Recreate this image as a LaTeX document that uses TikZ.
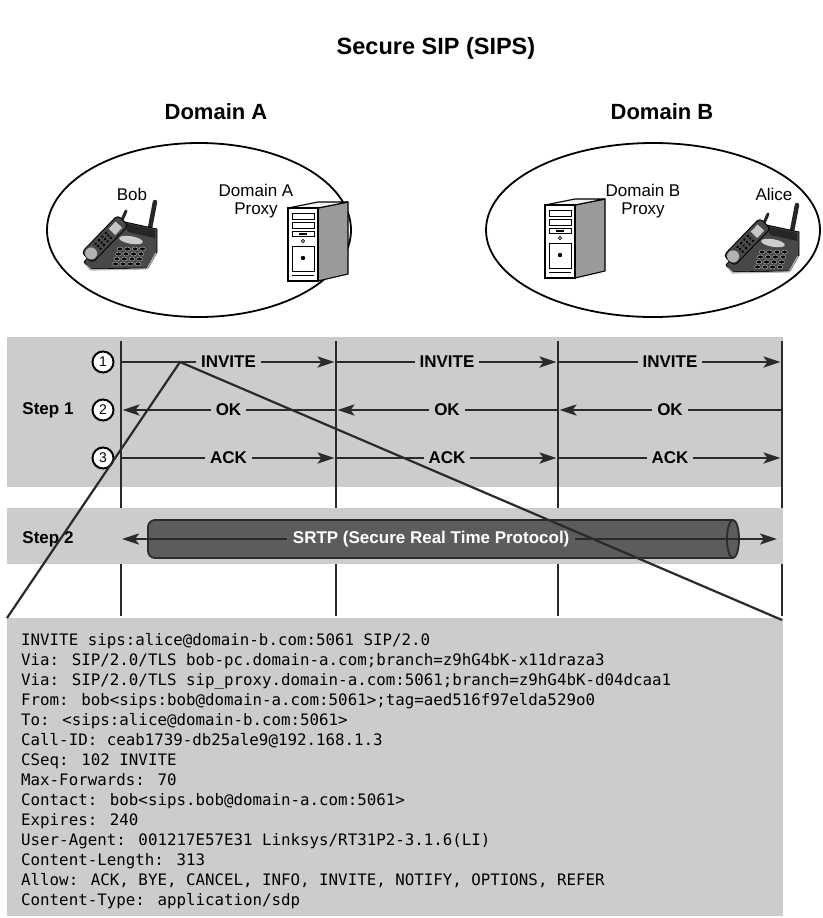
\documentclass[tikz,border=0pt]{standalone}
\usepackage{fontspec}
\setmainfont{Liberation Sans}
\newfontfamily\codefont{DejaVu Sans Mono}
\usetikzlibrary{arrows.meta,shapes.geometric}
\definecolor{bandgray}{HTML}{CCCCCC}
\definecolor{ink}{HTML}{2A2A2A}
\definecolor{tubefill}{HTML}{5C5C5C}
\definecolor{tubeedge}{HTML}{2B2B2B}
\definecolor{phbody}{HTML}{484848}
\definecolor{phdark}{HTML}{262626}
\definecolor{sideface}{HTML}{9A9A9A}
\begin{document}
\begin{tikzpicture}[x=1pt,y=-1pt,
  heading/.style={font=\fontsize{22}{26}\selectfont\bfseries, inner sep=0pt},
  devlabel/.style={font=\fontsize{17}{17.5}\selectfont, align=center, inner sep=0pt},
  domainbox/.style={ellipse, draw=black, line width=1.8pt, inner sep=0pt},
  band/.style={fill=bandgray},
  lifeline/.style={draw=ink, line width=2.4pt},
  tip/.tip={Stealth[length=17pt,width=11pt,inset=4pt]},
  msg/.style={draw=ink, line width=2.4pt, -tip, shorten >=1.5pt},
  msglbl/.style={fill=bandgray, font=\fontsize{17}{17}\selectfont\bfseries, inner xsep=5pt, inner ysep=1pt},
  num/.style={circle, draw=black, fill=white, line width=2pt, minimum size=21pt, inner sep=0pt, font=\fontsize{14}{14}\selectfont},
  steplbl/.style={font=\fontsize{17}{17}\selectfont\bfseries, inner sep=0pt},
  codeline/.style={anchor=base west, inner sep=0pt, font=\codefont\fontsize{15.8}{20}\selectfont},
  zoomline/.style={draw=ink, line width=2.2pt},
  phone/.pic={
    % base antenna
    \draw[line width=4.5pt, line cap=round, draw=phdark] (75,7) -- (70,33);
    % base body
    \filldraw[fill=phbody, draw=black, line width=0.9pt, line join=round]
      (40,26) -- (77,34) -- (77,57) -- (68,73) -- (10,74) -- (4,67) -- cycle;
    % raised back section
    \fill[phdark] (44,28) -- (75,35) -- (75,43) -- (48,37) -- cycle;
    % front lip
    \draw[gray!55, line width=1.2pt] (6,70) -- (11,75) -- (67,74) -- (76,58);
    % base display
    \fill[gray!40, rotate around={-10:(51,45)}] (51,45) ellipse[x radius=12pt, y radius=3.8pt];
    % keypad
    \foreach \r in {0,1,2,3}
      \foreach \c in {0,1,2,3}
        \filldraw[fill=black, draw=gray!65, line width=0.5pt]
          ({40+\c*7.5-\r*1.5},{54+\r*5}) ellipse[x radius=3pt, y radius=1.9pt];
    % handset antenna
    \draw[line width=3pt, line cap=round, draw=phdark] (42,25) -- (46,16);
    % handset
    \begin{scope}[shift={(25,44)}, rotate=46]
      \filldraw[fill=phbody, draw=black, line width=0.9pt, rounded corners=4pt] (-26,-7.5) rectangle (26,7.5);
      \fill[gray!60] (-20,0) ellipse[x radius=6pt, y radius=6pt];
      \fill[gray!45] (10,-4.5) rectangle (20,4.5);
      \foreach \k in {-10,-5,0,5}
        \foreach \j in {-3.5,0,3.5}
          \fill[black] (\k,\j) circle[radius=1.4pt];
    \end{scope}
  },
  server/.pic={
    % side and top faces
    \filldraw[fill=sideface, draw=black, line width=1.1pt, line join=round]
      (30,0) -- (60,-6) -- (60,66) -- (30,73) -- cycle;
    \filldraw[fill=gray!10, draw=black, line width=1.1pt, line join=round]
      (0,0) -- (30,-6) -- (60,-6) -- (30,0) -- cycle;
    % front panel
    \filldraw[fill=white, draw=black, line width=1.1pt] (0,0) rectangle (30,73);
    \draw[line width=0.7pt] (4,5) rectangle (26,11) (4,14) rectangle (26,20) (4,23) rectangle (26,28);
    \fill (11,25) rectangle (19,26.5);
    \draw[line width=0.6pt] (15,33) circle[radius=1.6pt];
    \draw[line width=0.7pt] (4,38) rectangle (26,63);
    \fill (15,50) circle[radius=2.2pt];
    \draw[line width=0.7pt] (4,67) -- (26,67);
  }
]
\useasboundingbox (0,0) rectangle (822,918);

% headings
\node[heading, font=\fontsize{23.5}{27}\selectfont\bfseries] (title) at (436,48) {Secure SIP (SIPS)};
\node[heading] (domA) at (216,112) {Domain A};
\node[heading] (domB) at (662,112) {Domain B};

% the two domains
\node[domainbox, minimum width=304pt, minimum height=174pt] (ellA) at (199,230) {};
\node[domainbox, minimum width=334pt, minimum height=174pt] (ellB) at (653,230) {};

\pic at (80,195) {phone};
\pic at (288,208) {server};
\pic at (545,205) {server};
\pic at (722,198) {phone};

\node[devlabel] (bob) at (132,194) {Bob};
\node[devlabel] (proxyA) at (256,201) {Domain A\\Proxy};
\node[devlabel] (proxyB) at (643,201) {Domain B\\Proxy};
\node[devlabel] (alice) at (774,194) {Alice};

% step 1 band
\fill[band] (7,337) rectangle (783,487);

% lifelines
\coordinate (t1) at (121,341);
\coordinate (t2) at (336,341);
\coordinate (t3) at (558,341);
\coordinate (t4) at (782,341);
\coordinate (e1) at (121,616);
\coordinate (e2) at (336,616);
\coordinate (e3) at (558,616);
\coordinate (e4) at (782,616);
\draw[lifeline] (t1) -- (e1);
\draw[lifeline] (t2) -- (e2);
\draw[lifeline] (t3) -- (e3);
\draw[lifeline] (t4) -- (e4);

% message rows
\coordinate (r1) at (0,362);
\coordinate (r2) at (0,410);
\coordinate (r3) at (0,458);

\node[num] (n1) at (103,362) {1};
\node[num] (n2) at (103,410) {2};
\node[num] (n3) at (103,458) {3};
\node[steplbl] (step1) at (48,410) {Step 1};

\draw[msg] (t1 |- r1) -- node[msglbl] (inv1) {INVITE} (t2 |- r1);
\draw[msg] (t2 |- r1) -- node[msglbl] (inv2) {INVITE} (t3 |- r1);
\draw[msg] (t3 |- r1) -- node[msglbl] (inv3) {INVITE} (t4 |- r1);

\draw[msg] (t2 |- r2) -- node[msglbl] (ok1) {OK} (t1 |- r2);
\draw[msg] (t3 |- r2) -- node[msglbl] (ok2) {OK} (t2 |- r2);
\draw[msg] (t4 |- r2) -- node[msglbl] (ok3) {OK} (t3 |- r2);

\draw[msg] (t1 |- r3) -- node[msglbl] (ack1) {ACK} (t2 |- r3);
\draw[msg] (t2 |- r3) -- node[msglbl] (ack2) {ACK} (t3 |- r3);
\draw[msg] (t3 |- r3) -- node[msglbl] (ack3) {ACK} (t4 |- r3);

% step 2 band with the SRTP tube
\fill[band] (7,508) rectangle (783,564);
\node[steplbl] (step2) at (48,539) {Step 2};
\filldraw[fill=tubefill, draw=tubeedge, line width=1.8pt, rounded corners=7pt]
  (733,520) -- (148,520) -- (148,558) -- (733,558);
\filldraw[fill=tubefill, draw=tubeedge, line width=1.8pt] (733,539) ellipse[x radius=6pt, y radius=19pt];
\coordinate (s2l) at (122,539);
\coordinate (s2r) at (777,539);
\draw[draw=ink, line width=2.4pt, tip-tip] (s2l) --
  node[pos=0.472, fill=tubefill, text=white, font=\fontsize{17}{17}\selectfont\bfseries, inner xsep=6pt, inner ysep=1pt] (srtp)
  {SRTP (Secure Real Time Protocol)} (s2r);

% INVITE message detail
\fill[band] (7,618) rectangle (783,916);
\node[codeline] (c1) at (21,645) {INVITE sips:alice@domain-b.com:5061 SIP/2.0};
\node[codeline] (c2) at (21,665) {Via: SIP/2.0/TLS bob-pc.domain-a.com;branch=z9hG4bK-x11draza3};
\node[codeline] (c3) at (21,685) {Via: SIP/2.0/TLS sip\_proxy.domain-a.com:5061;branch=z9hG4bK-d04dcaa1};
\node[codeline] (c4) at (21,705) {From: bob<sips:bob@domain-a.com:5061>;tag=aed516f97elda529o0};
\node[codeline] (c5) at (21,725) {To: <sips:alice@domain-b.com:5061>};
\node[codeline] (c6) at (21,745) {Call-ID: ceab1739-db25ale9@192.168.1.3};
\node[codeline] (c7) at (21,765) {CSeq: 102 INVITE};
\node[codeline] (c8) at (21,785) {Max-Forwards: 70};
\node[codeline] (c9) at (21,805) {Contact: bob<sips.bob@domain-a.com:5061>};
\node[codeline] (c10) at (21,825) {Expires: 240};
\node[codeline] (c11) at (21,845) {User-Agent: 001217E57E31 Linksys/RT31P2-3.1.6(LI)};
\node[codeline] (c12) at (21,865) {Content-Length: 313};
\node[codeline] (c13) at (21,885) {Allow: ACK, BYE, CANCEL, INFO, INVITE, NOTIFY, OPTIONS, REFER};
\node[codeline] (c14) at (21,905) {Content-Type: application/sdp};

% zoom lines from the first INVITE to the message
\coordinate (zp) at (180,362);
\coordinate (zl) at (7,618);
\coordinate (zr) at (782,620);
\draw[zoomline] (zl) -- (zp) -- (zr);
\end{tikzpicture}
\end{document}
